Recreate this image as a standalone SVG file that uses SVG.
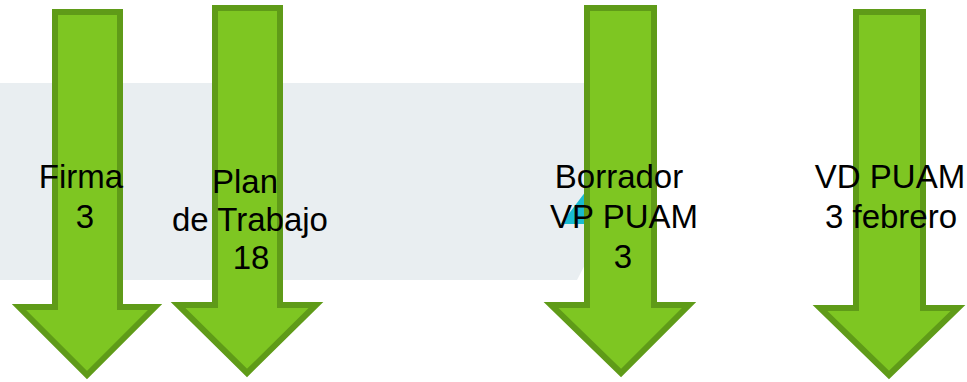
<svg xmlns="http://www.w3.org/2000/svg" width="967" height="382" viewBox="0 0 967 382">
<style>
.arrow{fill:#7EC622;stroke:#5F9B18;stroke-width:6;stroke-linejoin:miter}
.lbl{font-family:"Liberation Sans",Arial,sans-serif;font-size:33px;fill:#000;text-anchor:middle}
</style>
<g id="band">
<polygon points="0,83 590,83 590,255 577,280 0,280" fill="#E9EEF1"/>
<polygon points="561,224 586,224 586,191" fill="#1ABBD0"/>
</g>
<g id="connectors"></g>
<g id="node-firma">
<polygon class="arrow" points="55,12 120,12 120,307 155,307 87,375 19,307 55,307"/>
<text class="lbl" x="81" y="188">Firma</text>
<text class="lbl" x="85" y="228">3</text>
</g>
<g id="node-plan">
<polygon class="arrow" points="215,8 280,8 280,305 316,305 247,373 178,305 215,305"/>
<text class="lbl" x="245" y="193">Plan</text>
<text class="lbl" x="250" y="231">de Trabajo</text>
<text class="lbl" x="251" y="269">18</text>
</g>
<g id="node-borrador">
<polygon class="arrow" points="587,8 654,8 654,305 689,305 621,373 551,305 587,305"/>
<text class="lbl" x="619" y="188">Borrador</text>
<text class="lbl" x="624" y="228">VP PUAM</text>
<text class="lbl" x="623" y="268">3</text>
</g>
<g id="node-vd">
<polygon class="arrow" points="856,12 923,12 923,308 958,308 889,375 820,308 856,308"/>
<text class="lbl" x="890" y="188">VD PUAM</text>
<text class="lbl" x="891" y="228">3 febrero</text>
</g>
</svg>
